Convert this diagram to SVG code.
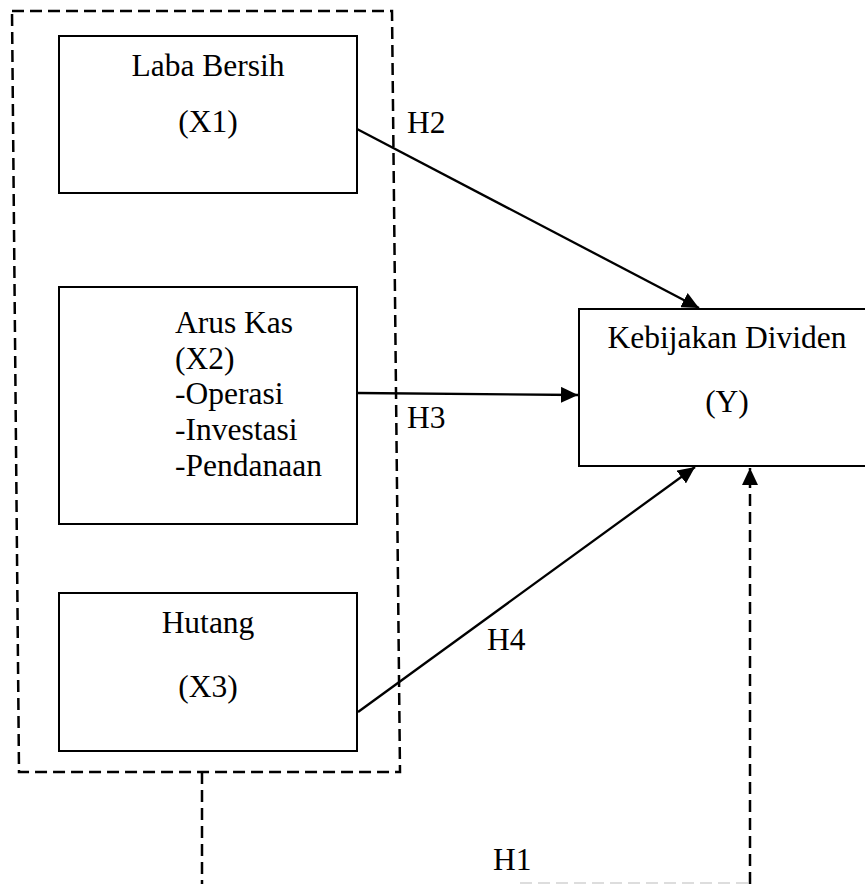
<svg xmlns="http://www.w3.org/2000/svg" width="865" height="884" viewBox="0 0 865 884">
<style>
.box{fill:#fff;stroke:#000;stroke-width:2}
.t{font-family:"Liberation Serif","Times New Roman",serif;font-size:31.5px;fill:#000}
.c{text-anchor:middle}
.dash{fill:none;stroke:#000;stroke-width:2.5;stroke-dasharray:12 6}
.arr{fill:none;stroke:#000;stroke-width:2.3}
</style>
<defs>
<marker id="ah" markerUnits="userSpaceOnUse" markerWidth="18" markerHeight="16" refX="17" refY="8" orient="auto">
<path d="M0,0 L17,8 L0,16 z" fill="#000"/>
</marker>
</defs>
<rect width="865" height="884" fill="#fff"/>
<g id="group-x">
<path class="dash" d="M12,11 L392,11 L400,772 L19,772 Z"/>
</g>
<g id="laba-bersih">
<rect class="box" x="59" y="36" width="298" height="157"/>
<text class="t c" x="208" y="76">Laba Bersih</text>
<text class="t c" x="208" y="132">(X1)</text>
</g>
<g id="arus-kas">
<rect class="box" x="59" y="287" width="298" height="237"/>
<text class="t" x="175" y="333">Arus Kas</text>
<text class="t" x="175" y="369">(X2)</text>
<text class="t" x="175" y="404">-Operasi</text>
<text class="t" x="175" y="440">-Investasi</text>
<text class="t" x="175" y="476">-Pendanaan</text>
</g>
<g id="hutang">
<rect class="box" x="59" y="593" width="298" height="158"/>
<text class="t c" x="208" y="633">Hutang</text>
<text class="t c" x="208" y="697">(X3)</text>
</g>
<g id="kebijakan-dividen">
<rect class="box" x="579" y="309" width="300" height="157"/>
<text class="t c" x="727" y="348">Kebijakan Dividen</text>
<text class="t c" x="727" y="412">(Y)</text>
</g>
<g id="connectors">
<line class="arr" x1="357" y1="129" x2="699" y2="308" marker-end="url(#ah)"/>
<line class="arr" x1="357" y1="393" x2="578" y2="395" marker-end="url(#ah)"/>
<line class="arr" x1="358" y1="712" x2="695" y2="467" marker-end="url(#ah)"/>
<line class="dash" x1="750" y1="884" x2="750" y2="468" marker-end="url(#ah)"/>
<line class="dash" x1="202" y1="772" x2="202" y2="884"/>
<line x1="520" y1="883" x2="749" y2="883" stroke="#ddd" stroke-width="2" stroke-dasharray="12 6"/>
</g>
<g id="labels">
<text class="t" x="407" y="133">H2</text>
<text class="t" x="407" y="428">H3</text>
<text class="t" x="487" y="650">H4</text>
<text class="t" x="493" y="870">H1</text>
</g>
</svg>
